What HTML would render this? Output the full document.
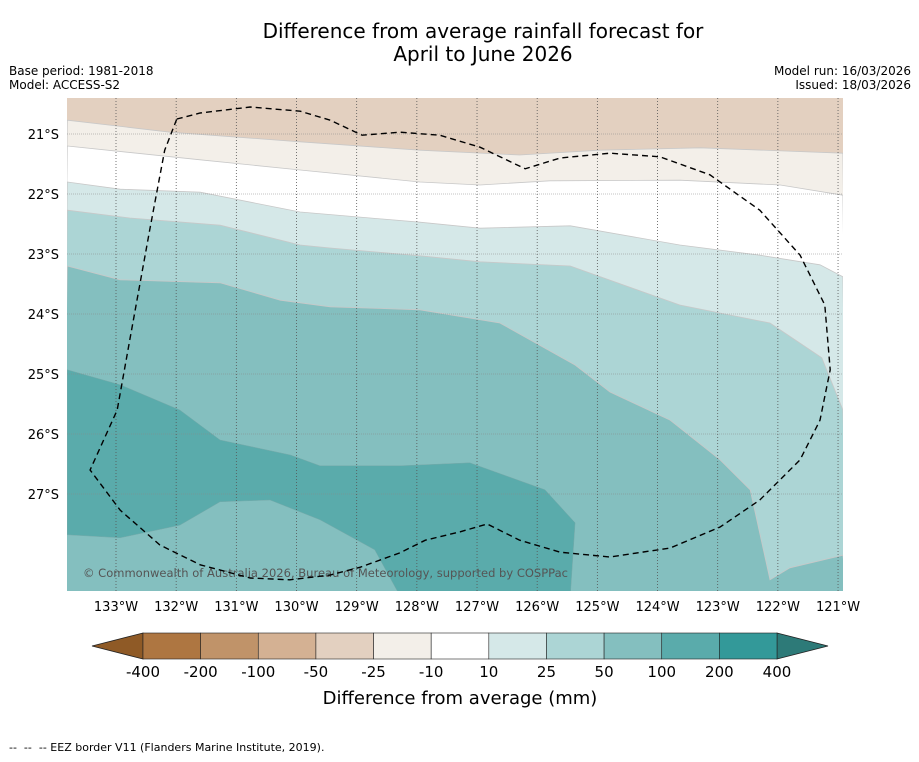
<!DOCTYPE html>
<html><head><meta charset="utf-8"><style>
body{margin:0;background:#fff;font-family:"DejaVu Sans","Liberation Sans",sans-serif;}
svg text{font-family:"DejaVu Sans","Liberation Sans",sans-serif;}
</style></head><body>
<svg id="chart" width="919" height="758" viewBox="0 0 919 758" xmlns="http://www.w3.org/2000/svg">
<rect width="919" height="758" fill="#fff"/>
<text x="483" y="38" font-size="20" text-anchor="middle">Difference from average rainfall forecast for</text>
<text x="483" y="61" font-size="20" text-anchor="middle">April to June 2026</text>
<text x="9" y="75" font-size="12">Base period: 1981-2018</text>
<text x="9" y="89" font-size="12">Model: ACCESS-S2</text>
<text x="911" y="75" font-size="12" text-anchor="end">Model run: 16/03/2026</text>
<text x="911" y="89" font-size="12" text-anchor="end">Issued: 18/03/2026</text>
<defs><clipPath id="mapclip"><rect x="67" y="98" width="776" height="493"/></clipPath></defs>
<g id="map" clip-path="url(#mapclip)"></g>
<g id="axes"></g>
<g id="cbar"></g>
<text x="460" y="704" font-size="18" text-anchor="middle">Difference from average (mm)</text>
<text x="9" y="751" font-size="11" xml:space="preserve">--  --  -- EEZ border V11 (Flanders Marine Institute, 2019).</text>
</svg>
<script>
const NS="http://www.w3.org/2000/svg";
const colorLevels=["-400","-200","-100","-50","-25","-10","10","25","50","100","200","400"];
const colorFills=["#ae7641","#c09369","#d4b193","#e3d0c0","#f3efe9","#ffffff","#d5e8e8","#acd5d5","#84bfbf","#5aabab","#339999"];
const lonTicks=[-133,-132,-131,-130,-129,-128,-127,-126,-125,-124,-123,-122,-121];
const latTicks=[-21,-22,-23,-24,-25,-26,-27];
// contour boundaries (lon, lat)
const bA_lon=[-133.81,-132.1,-129.94,-127.95,-126.29,-124.96,-123.29,-120.92];
const bA_lat=[-20.77,-20.97,-21.13,-21.27,-21.35,-21.27,-21.23,-21.32];
const bB_lon=[-133.81,-131.6,-129.94,-127.95,-126.95,-125.79,-123.63,-121.96,-120.92];
const bB_lat=[-21.2,-21.43,-21.6,-21.8,-21.85,-21.78,-21.77,-21.85,-22.02];
const bC_lon=[-133.81,-132.93,-131.6,-129.94,-127.95,-126.95,-125.45,-123.63,-122.3,-121.3,-120.92];
const bC_lat=[-21.8,-21.92,-21.97,-22.3,-22.47,-22.57,-22.53,-22.85,-23.02,-23.18,-23.38];
const bD_lon=[-133.81,-132.77,-131.27,-129.94,-129.44,-127.95,-126.95,-125.45,-123.63,-122.13,-121.27,-120.92];
const bD_lat=[-22.27,-22.4,-22.52,-22.85,-22.9,-23.03,-23.13,-23.2,-23.85,-24.15,-24.73,-25.6];
const bE_lon=[-133.81,-132.93,-131.27,-130.27,-129.44,-127.95,-126.62,-125.37,-124.79,-123.79,-122.96,-122.46,-122.13,-121.8,-120.92];
const bE_lat=[-23.2,-23.43,-23.48,-23.77,-23.88,-23.93,-24.15,-24.85,-25.3,-25.77,-26.43,-26.93,-28.43,-28.23,-28.02];
const bF_lon=[-133.81,-132.93,-131.94,-131.27,-130.1,-129.61,-128.28,-127.12,-125.87,-125.37,-125.45];
const bF_lat=[-24.93,-25.18,-25.6,-26.1,-26.35,-26.53,-26.53,-26.48,-26.93,-27.48,-28.7];
const bG_lon=[-133.81,-132.93,-131.94,-131.27,-130.44,-129.61,-128.7,-128.28];
const bG_lat=[-27.68,-27.73,-27.52,-27.13,-27.1,-27.43,-27.93,-28.7];
const eezLon=[-131.99,-131.6,-130.77,-129.94,-129.44,-128.91,-128.28,-127.62,-126.95,-126.2,-125.62,-124.79,-123.96,-123.13,-122.3,-121.63,-121.22,-121.13,-121.3,-121.63,-122.3,-122.96,-123.79,-124.79,-125.62,-126.29,-126.83,-127.28,-127.86,-128.28,-128.94,-129.44,-130.11,-130.77,-131.6,-132.27,-132.93,-133.43,-132.98,-132.77,-132.44,-132.19,-131.99];
const eezLat=[-20.75,-20.65,-20.55,-20.62,-20.77,-21.02,-20.97,-21.02,-21.22,-21.58,-21.4,-21.32,-21.38,-21.68,-22.27,-23.02,-23.85,-24.93,-25.77,-26.43,-27.1,-27.55,-27.9,-28.05,-27.97,-27.77,-27.5,-27.63,-27.77,-27.98,-28.22,-28.35,-28.43,-28.4,-28.18,-27.85,-27.27,-26.6,-25.6,-24.43,-22.6,-21.27,-20.75];

const X=lon=>116+(lon+133)*60.17;
const Y=lat=>134+(-21-lat)*60;
const L=67,R=843,T=98,B=591;
function el(tag,attrs,parent){const e=document.createElementNS(NS,tag);for(const k in attrs)e.setAttribute(k,attrs[k]);parent.appendChild(e);return e;}
const map=document.getElementById('map');
el('rect',{x:L,y:T,width:R-L,height:B-T,fill:colorFills[3]},map);
function pts(lons,lats){return lons.map((v,i)=>X(v).toFixed(1)+","+Y(lats[i]).toFixed(1));}
const bands=[[bA_lon,bA_lat,4,'band-minus25-minus10'],[bB_lon,bB_lat,5,'band-minus10-10'],[bC_lon,bC_lat,6,'band-10-25'],[bD_lon,bD_lat,7,'band-25-50'],[bE_lon,bE_lat,8,'band-50-100']];
bands.forEach(b=>{
  const p=pts(b[0],b[1]).concat([(R+5)+","+(B+5),(L-5)+","+(B+5)]);
  const poly=el('polygon',{points:p.join(" "),fill:colorFills[b[2]],stroke:"#c8c8c8","stroke-width":0.8},map);
  
  
});
{
  const gp=pts(bG_lon,bG_lat).reverse();
  const p=pts(bF_lon,bF_lat).concat(gp);
  const poly=el('polygon',{points:p.join(" "),fill:colorFills[9],stroke:"#7aa","stroke-width":0.5},map);
  
  
}
lonTicks.forEach(lon=>{const g=el('line',{x1:X(lon),x2:X(lon),y1:T,y2:B,stroke:"#555","stroke-width":0.8,"stroke-dasharray":"1,2"},map);
});
latTicks.forEach(lat=>{const g=el('line',{x1:L,x2:R,y1:Y(lat),y2:Y(lat),stroke:"#888","stroke-width":0.6,"stroke-dasharray":"1,1"},map);
});
const cp=el('text',{x:83,y:577,"font-size":11.5,fill:"#555",textLength:485},map);cp.textContent="© Commonwealth of Australia 2026, Bureau of Meteorology, supported by COSPPac";

const eez=el('polyline',{points:pts(eezLon,eezLat).join(" "),fill:"none",stroke:"#000","stroke-width":1.4,"stroke-dasharray":"6,4"},map);

const axes=document.getElementById('axes');
lonTicks.forEach(lon=>{const t=el('text',{x:X(lon),y:611,"font-size":13,"text-anchor":"middle"},axes);t.textContent=Math.abs(lon)+"°W";
});
latTicks.forEach(lat=>{const t=el('text',{x:59,y:Y(lat)+5,"font-size":13,"text-anchor":"end"},axes);t.textContent=Math.abs(lat)+"°S";
});
const cb=document.getElementById('cbar');
const cx0=143,cw=(777-143)/11,cy=633,ch=26;
el('polygon',{points:`92,${cy+ch/2} ${cx0},${cy} ${cx0},${cy+ch}`,fill:"#8f5a26",stroke:"#222","stroke-width":0.8},cb);
el('polygon',{points:`828,${cy+ch/2} 777,${cy} 777,${cy+ch}`,fill:"#2d7a78",stroke:"#222","stroke-width":0.8},cb);
colorFills.forEach((c,i)=>{const r=el('rect',{x:cx0+i*cw,y:cy,width:cw,height:ch,fill:c,stroke:"#222","stroke-width":0.6},cb);
});
colorLevels.forEach((lv,i)=>{const t=el('text',{x:cx0+i*cw,y:677,"font-size":15,"text-anchor":"middle"},cb);t.textContent=lv;
});
</script>
</body></html>
